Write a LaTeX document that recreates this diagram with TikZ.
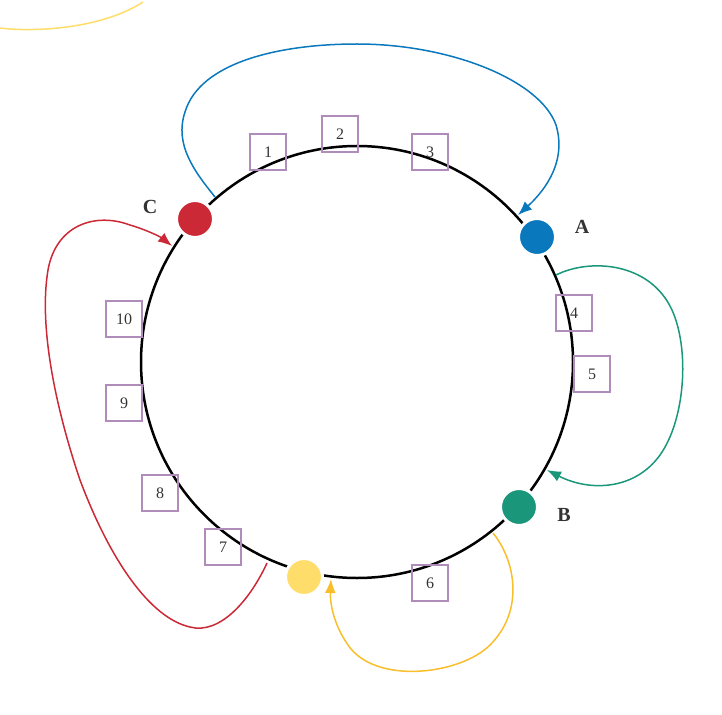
\documentclass[tikz,border=0pt]{standalone}
\usepackage{fontspec}
\setmainfont{Liberation Serif}
\usetikzlibrary{arrows.meta}
\definecolor{cblue}{HTML}{0A78BD}
\definecolor{cgreen}{HTML}{1A967A}
\definecolor{cred}{HTML}{CC2936}
\definecolor{cyel}{HTML}{FFDD6B}
\definecolor{cyel2}{HTML}{F9BE2C}
\definecolor{cbox}{HTML}{B08CBA}
\definecolor{clab}{HTML}{333333}
\tikzset{
  dot/.style={circle, minimum size=37pt, inner sep=0pt, draw=white, line width=3pt},
  numbox/.style={draw=cbox, line width=1.3pt, minimum size=36pt, inner sep=0pt, font=\fontsize{16}{16}\selectfont, text=clab},
  lab/.style={font=\fontsize{20}{20}\selectfont\bfseries, text=clab},
  conn/.style={line width=1.5pt},
  tip/.style={-{Latex[length=14pt,width=11pt]}}
}
\begin{document}
\begin{tikzpicture}[x=1pt,y=-1pt]
\useasboundingbox (0,0) rectangle (722,714);
\coordinate (O) at (357,362);
\draw[line width=2.5pt] (O) circle[radius=216];
% boxes
\node[numbox] (b1) at (268,152) {1};
\node[numbox] (b2) at (340,134) {2};
\node[numbox] (b3) at (430,152) {3};
\node[numbox] (b4) at (574,313) {4};
\node[numbox] (b5) at (592,374) {5};
\node[numbox] (b6) at (430,583) {6};
\node[numbox] (b7) at (223,547) {7};
\node[numbox] (b8) at (160,493) {8};
\node[numbox] (b9) at (124,403) {9};
\node[numbox] (b10) at (124,319) {10};
% curve endpoints
\coordinate (bs) at (215,197);
\coordinate (be) at (518,215);
\coordinate (gs) at (556,275);
\coordinate (ge) at (547,470);
\coordinate (ys) at (493,533);
\coordinate (ye) at (331,579);
\coordinate (rs) at (267,563);
\coordinate (re) at (172,246);
\coordinate (ts) at (0,28);
\coordinate (te) at (143,2);
% connectors
\draw[conn, cblue, tip] (bs) .. controls (195,172) and (174,145) .. (185,112) .. controls (200,62) and (280,44) .. (357,44) .. controls (450,44) and (540,80) .. (556,125) .. controls (568,165) and (540,195) .. (be);
\draw[conn, cgreen, tip] (gs) .. controls (590,258) and (650,262) .. (672,310) .. controls (690,350) and (685,420) .. (660,455) .. controls (635,490) and (590,492) .. (ge);
\draw[conn, cyel2, tip] (ys) .. controls (515,560) and (525,610) .. (490,645) .. controls (460,675) and (375,685) .. (348,645) .. controls (332,622) and (330,600) .. (ye);
\draw[conn, cred, tip] (rs) .. controls (250,600) and (220,635) .. (190,627) .. controls (150,618) and (110,560) .. (80,480) .. controls (58,415) and (38,330) .. (48,270) .. controls (56,225) and (95,212) .. (130,225) .. controls (150,231) and (162,238) .. (re);
\draw[conn, cyel] (ts) .. controls (30,32) and (100,30) .. (te);
% dots
\node[dot, fill=cred] (C) at (195,219) {};
\node[dot, fill=cblue] (A) at (537,237) {};
\node[dot, fill=cgreen] (B) at (519,507) {};
\node[dot, fill=cyel] (Y) at (304,577) {};
% labels
\node[lab] (lC) at (150,207) {C};
\node[lab] (lA) at (582,227) {A};
\node[lab] (lB) at (564,515) {B};
\end{tikzpicture}
\end{document}
